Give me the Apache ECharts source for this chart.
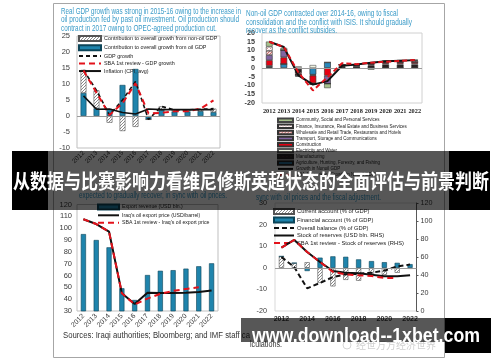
<!DOCTYPE html>
<html><head><meta charset="utf-8">
<script src="https://cdn.jsdelivr.net/npm/echarts@6/dist/echarts.min.js"></script>
<style>html,body{margin:0;padding:0;background:#fff}#c{width:500px;height:362px}</style>
</head><body><div id="c"></div>
<script>
// ---------------- DATA ----------------
const years = ['2012','2013','2014','2015','2016','2017','2018','2019','2020','2021','2022'];

// Panel 1: real GDP growth
const p1Range  = [-10, 25, 5];
const p1Oil    = [7.2, 2.4, 2.2, 9.7, 14.7, -1.1, 1.9, 1.4, 1.4, 1.5, 1.2];
const p1NonOil = [7.2, 5.6, -2.1, -4.7, -3.4, 0, 1.1, 0.5, 0.5, 0.6, 1.1];
const p1Gdp    = [14.4, 8.0, 0.3, 5.0, 10.8, -1.1, 3.0, 1.9, 1.9, 2.1, 2.3];
const p1Sba    = [14.2, 7.3, 0.3, 4.0, 10.2, 0.8, 1.0, 1.5, 1.5, 2.3, 4.9];
const p1Cpi    = [6.3, 2.1, 2.2, 1.1, 0.6, 2.2, 2.0, 2.0, 2.0, 2.0, 2.0];

// Panel 2: non-oil GDP contributions
const p2Range  = [-20, 20, 5];
const p2Agri   = [0.5, 2.3, -0.5, -3.8, 3.2, 0, 0, 0, 0, 0, 0];
const p2Manuf  = [0.5, 0, -2.5, -0.5, 0, 1.0, 1.0, 1.5, 2.0, 2.0, 2.0];
const p2Elec   = [0.3, 0, 1.0, 1.7, 0, 0.3, 0.2, 0.3, 0.4, 0.4, 0.4];
const p2Constr = [3.2, 3.8, -1.0, -4.4, -4.4, 0.4, 0.3, 0.6, 0.8, 0.9, 1.0];
const p2Transp = [2.9, 4.2, 0, -0.5, -4.6, 0, 0, 0, 0, 0, 0];
const p2Whole  = [2.4, 0, 0, 0, 0, 0.3, 0.3, 0.4, 0.5, 0.6, 0.7];
const p2Fin    = [2.4, 0, -0.6, 0, 0, 0, 0, 0.3, 0.3, 0.3, 0.3];
const p2Comm   = [2.9, 1.2, -0.3, 0, -2.5, 0, 0, -1.0, 0, 0.3, 0.4];
const p2Growth = [15.0, 12.0, -4.2, -9.5, -7.5, 1.3, 2.0, 3.0, 3.8, 4.2, 4.5];
const p2Sba    = [15.0, 12.0, -2.5, -12.8, -5.3, 2.7, 2.2, 3.0, 3.6, 4.0, 4.6];

// Panel 3: exports and oil price
const p3Range  = [30, 120, 10];
const p3Export = [95, 90, 83.8, 49.2, 39.3, 60.4, 64, 64.5, 65.8, 67.8, 70.3];
const p3Price  = [107.5, 103.5, 97, 45, 35.9, 45.5, 45.2, 45.2, 45.5, 46, 47.3];
const p3Sba    = [107.5, 103.5, 97, 45, 35.5, 40.5, 44.5, 47, 48.6, 50, null];

// Panel 4: balance of payments
const p4RangeL = [-20, 30, 10];
const p4RangeR = [0, 120, 20];
const p4CA     = [5.3, 2.2, 2.6, -7.0, -8.6, -5.6, -6.0, -2.8, -3.3, -2.3, -0.5];
const p4FA     = [0, 0, -1.5, 4.7, 5.3, 5.1, 3.9, 3.1, 2.6, 2.3, 1.7];
const p4OB     = [5.0, 0.3, -9.5, -7.0, -4.3, -3.0, -2.8, -2.3, -1.3, 0.6, 1.5];
const p4Res    = [70.4, 79, 65.5, 54.4, 44.5, 42.6, 41.9, 40.4, 38.5, 38.5, 39.6];
const p4Sba    = [70.4, 79, 65.5, 54.4, 43.5, 40.7, 39.6, 38.9, 36.7, 36.7, null];

// ---------------- STYLE HELPERS ----------------
const FONT = 'Liberation Sans, Arial, sans-serif';
const TEAL = '#1F84AC', TEAL_B = '#0C4559', RED = '#E3121B', TITLE = '#3A9BC8';

function pattern(bg, fg, step, lw, kind) {
  const c = document.createElement('canvas'); c.width = step; c.height = step;
  const g = c.getContext('2d');
  g.fillStyle = bg; g.fillRect(0, 0, step, step);
  g.strokeStyle = fg; g.fillStyle = fg; g.lineWidth = lw;
  if (kind === 'diag') {
    g.beginPath();
    g.moveTo(-1, step + 1); g.lineTo(step + 1, -1);
    g.moveTo(-1, 1); g.lineTo(1, -1);
    g.moveTo(step - 1, step + 1); g.lineTo(step + 1, step - 1);
    g.stroke();
  } else if (kind === 'dots') {
    g.fillRect(0, 0, lw, lw); g.fillRect(step / 2, step / 2, lw, lw);
  } else if (kind === 'hdash') {
    g.fillRect(0, 0, step / 2, lw);
  }
  return { image: c, repeat: 'repeat' };
}
const hatchGray  = pattern('#ffffff', '#8c8c8c', 3, 1, 'diag');
const patFin     = pattern('#ffffff', '#D98C8C', 3, 1, 'dots');
const patWhole   = pattern('#F4D6D6', '#C0504D', 3, 0.8, 'diag');
const patManuf   = pattern('#2b2222', '#9a7070', 4, 1, 'hdash');

function measure(text, weight, size, family) {
  const g = document.createElement('canvas').getContext('2d');
  g.font = weight + ' ' + size + 'px ' + family;
  return g.measureText(text).width;
}
function fitText(text, x, y, width, size, color, weight, family, z) {
  const w = measure(text, weight, size, family);
  return { type: 'text', x: x, y: y, scaleX: width / w, z: z, silent: true,
    style: { text: text, x: 0, y: 0, fill: color, fontSize: size, fontWeight: weight,
             fontFamily: family, verticalAlign: 'middle', align: 'left' } };
}

const zeroLine = { silent: true, symbol: 'none', label: { show: false },
  lineStyle: { color: '#9a9a9a', width: 1, type: 'solid' }, data: [{ yAxis: 0 }], animation: false };

function catAxis(gi, extra) {
  return Object.assign({ gridIndex: gi, type: 'category', data: years,
    axisLine: { show: false }, axisTick: { show: false }, splitLine: { show: false } }, extra);
}
function valAxis(gi, r, extra) {
  return Object.assign({ gridIndex: gi, type: 'value', min: r[0], max: r[1], interval: r[2],
    splitLine: { show: false }, axisLine: { show: false }, axisTick: { show: false } }, extra);
}
const lbl = (size, margin, extra) => Object.assign({ fontSize: size, color: '#3a3a3a', margin: margin, fontFamily: FONT }, extra || {});

const lineNames = new Set();
function bar(name, data, xi, yi, stack, color, border, width) {
  return { type: 'bar', name: name, data: data, xAxisIndex: xi, yAxisIndex: yi, stack: stack,
    barWidth: width, itemStyle: { color: color, borderColor: border, borderWidth: 0.6 } };
}
function line(name, data, xi, yi, color, w, type, z) {
  lineNames.add(name);
  return { type: 'line', name: name, data: data, xAxisIndex: xi, yAxisIndex: yi, symbol: 'none',
    z: z || 3, lineStyle: { color: color, width: w, type: type }, itemStyle: { color: color } };
}

// ---------------- SERIES ----------------
const s1 = [
  Object.assign(bar('Contribution to overall growth from oil GDP', p1Oil, 0, 0, 'g1', TEAL, TEAL_B, '45%'), { markLine: zeroLine }),
  bar('Contribution to overall growth from non-oil GDP', p1NonOil, 0, 0, 'g1', hatchGray, '#555', '45%'),
  line('GDP growth', p1Gdp, 0, 0, '#111', 1.6, [4, 3], 3),
  line('SBA 1st review - GDP growth', p1Sba, 0, 0, RED, 2, [6, 4], 4),
  line('Inflation (CPI, avg)', p1Cpi, 0, 0, '#111', 1.6, 'solid', 5)
];
const s2 = [
  Object.assign(bar('Agriculture, Hunting, Forestry, and Fishing', p2Agri, 1, 1, 'g2', '#2A88BA', '#222', '46%'), { markLine: zeroLine }),
  bar('Manufacturing', p2Manuf, 1, 1, 'g2', patManuf, '#222', '46%'),
  bar('Electricity and Water', p2Elec, 1, 1, 'g2', '#EEF3E2', '#555', '46%'),
  bar('Construction', p2Constr, 1, 1, 'g2', '#E60012', '#333', '46%'),
  bar('Transport, Storage and Communications', p2Transp, 1, 1, 'g2', '#8064A2', '#333', '46%'),
  bar('Wholesale and Retail Trade, Restaurants and Hotels', p2Whole, 1, 1, 'g2', patWhole, '#333', '46%'),
  bar('Finance, Insurance, Real Estate and Business Services', p2Fin, 1, 1, 'g2', patFin, '#333', '46%'),
  bar('Community, Social and Personal Services', p2Comm, 1, 1, 'g2', '#A6C08A', '#444', '46%'),
  line('Growth in Nonoil GDP', p2Growth, 1, 1, '#111', 2, 'solid', 4),
  line('SBA 1st review - Growth in Nonoil GDP', p2Sba, 1, 1, RED, 2, [5, 3], 5)
];
const s3 = [
  bar('Export revenue (USD bln.)', p3Export, 2, 2, null, TEAL, TEAL_B, '40%'),
  line("Iraq's oil export price (USD/barrel)", p3Price, 2, 2, '#111', 2, 'solid', 4),
  line("SBA 1st review - Iraq's oil export price", p3Sba, 2, 2, RED, 2, [6, 4], 5)
];
const s4 = [
  Object.assign(bar('Current account (% of GDP)', p4CA, 3, 3, 'g4', hatchGray, '#555', '40%'), { markLine: zeroLine }),
  bar('Financial account (% of GDP)', p4FA, 3, 3, 'g4', TEAL, TEAL_B, '40%'),
  line('Overall balance (% of GDP)', p4OB, 3, 3, '#111', 2, [5, 3], 3),
  line('Stock of reserves (USD bln. RHS)', p4Res, 3, 4, '#111', 2, 'solid', 4),
  line('SBA 1st review - Stock of reserves (RHS)', p4Sba, 3, 4, RED, 2, [6, 4], 5)
];

function legend(left, top, names, size, iw, ih, gap, lh) {
  return { left: left, top: top, orient: 'vertical', padding: 0, itemGap: gap, itemWidth: iw, itemHeight: ih,
    selectedMode: false,
    data: names.map(n => lineNames.has(n) ? { name: n, itemStyle: { opacity: 0 } } : { name: n, icon: 'rect' }),
    textStyle: { fontSize: size, color: '#222', fontFamily: FONT, lineHeight: lh, padding: [0, 0, 0, -2] } };
}

const option = {
  animation: false,
  backgroundColor: '#ffffff',
  grid: [
    { left: 77, top: 36, width: 143, height: 112, show: true, borderColor: '#BFBFBF', borderWidth: 1 },
    { left: 262, top: 33, width: 160, height: 70, show: true, borderColor: '#D0D0D0', borderWidth: 1 },
    { left: 77, top: 204.5, width: 141, height: 106.5, show: true, borderColor: '#BFBFBF', borderWidth: 1 },
    { left: 275, top: 203, width: 141.5, height: 108, show: true, borderColor: '#D9D9D9', borderWidth: 1 }
  ],
  xAxis: [
    catAxis(0, { axisLabel: lbl(6.5, 4, { rotate: 45, interval: 0 }) }),
    catAxis(1, { axisLabel: lbl(6.3, 5, { interval: 0, fontFamily: 'Liberation Serif, serif', fontWeight: 'bold', color: '#222' }) }),
    catAxis(2, { axisLabel: lbl(7, 4, { rotate: 45, interval: 0 }) }),
    catAxis(3, { axisLabel: lbl(7, 5, { interval: 1, fontWeight: 'bold' }) })
  ],
  yAxis: [
    valAxis(0, p1Range, { axisLabel: lbl(7.5, 7) }),
    valAxis(1, p2Range, { axisLabel: lbl(7.2, 7, { fontWeight: 'bold' }) }),
    valAxis(2, p3Range, { axisLabel: lbl(7.5, 5) }),
    valAxis(3, p4RangeL, { axisLabel: lbl(7.2, 8) }),
    valAxis(3, p4RangeR, { position: 'right', axisLabel: lbl(7.2, 4),
      axisLine: { show: true, lineStyle: { color: '#595959', width: 1 } },
      axisTick: { show: true, inside: false, length: 2, lineStyle: { color: '#595959' } } })
  ],
  legend: [
    legend(78, 35, ['Contribution to overall growth from non-oil GDP', 'Contribution to overall growth from oil GDP',
      'GDP growth', 'SBA 1st review - GDP growth', 'Inflation (CPI, avg)'], 5.4, 22, 5, 2.2, 5.3),
    legend(277, 117.5, ['Community, Social and Personal Services', 'Finance, Insurance, Real Estate and Business Services',
      'Wholesale and Retail Trade, Restaurants and Hotels', 'Transport, Storage and Communications', 'Construction',
      'Electricity and Water', 'Manufacturing', 'Agriculture, Hunting, Forestry, and Fishing', 'Growth in Nonoil GDP',
      'SBA 1st review - Growth in Nonoil GDP'], 4.5, 15, 3.5, 0.6, 5.2),
    legend(97, 203.5, ['Export revenue (USD bln.)', "Iraq's oil export price (USD/barrel)",
      "SBA 1st review - Iraq's oil export price"], 5.2, 21, 5, 2.2, 5.2),
    legend(273, 208, ['Current account (% of GDP)', 'Financial account (% of GDP)', 'Overall balance (% of GDP)',
      'Stock of reserves (USD bln. RHS)', 'SBA 1st review - Stock of reserves (RHS)'], 5.8, 20, 5, 1.5, 5.8)
  ],
  series: [].concat(s1, s2, s3, s4),
  graphic: [
    { type: 'rect', silent: true, z: 1, shape: { x: 53.5, y: 3.5, width: 391, height: 354 },
      style: { fill: 'none', stroke: '#A6A6A6', lineWidth: 1 } },
    fitText('Real GDP growth was strong in 2015-16 owing to the increase in', 61, 11.7, 180, 8.2, TITLE, 'normal', FONT, 50),
    fitText('oil production fed by past oil investment. Oil production should', 61, 20, 178, 8.2, TITLE, 'normal', FONT, 50),
    fitText('contract in 2017 owing to OPEC-agreed production cut.', 61, 28.3, 155.7, 8.2, TITLE, 'normal', FONT, 50),
    fitText('Non-oil GDP contracted over 2014-16, owing to fiscal', 246, 14, 152, 8.2, TITLE, 'normal', FONT, 50),
    fitText('consolidation and the conflict with ISIS. It should gradually', 246, 22.7, 166, 8.2, TITLE, 'normal', FONT, 50),
    fitText('recover as the conflict subsides.', 246, 30.7, 91, 8.2, TITLE, 'normal', FONT, 50),
    fitText('expected to gradually recover, in sync with oil prices.', 79, 196, 148, 8.2, TITLE, 'normal', FONT, 50),
    fitText('sync with oil prices and the fiscal adjustment.', 256, 198, 125, 8.2, TITLE, 'normal', FONT, 50),
    fitText('Sources: Iraqi authorities; Bloomberg; and IMF staff ca', 63, 336, 187, 8.5, '#333', 'normal', FONT, 50),
    fitText('lculations.', 250, 345, 32, 8.5, '#333', 'normal', FONT, 50),
    fitText('经世万方经济世界', 356, 345, 80, 10, '#d0d0d0', 'normal', 'Noto Sans CJK SC', 50),
    { type: 'circle', silent: true, z: 50, shape: { cx: 347, cy: 345, r: 4 }, style: { fill: 'none', stroke: '#d5d5d5', lineWidth: 1 } },
    // top banner
    { type: 'rect', silent: true, z: 100, shape: { x: 48, y: 151, width: 401, height: 59 }, style: { fill: 'rgba(0,0,0,0.66)' } },
    { type: 'rect', silent: true, z: 100, shape: { x: 12, y: 151, width: 36, height: 59 }, style: { fill: '#000' } },
    { type: 'rect', silent: true, z: 100, shape: { x: 449, y: 151, width: 41, height: 59 }, style: { fill: '#000' } },
    fitText('从数据与比赛影响力看维尼修斯英超状态的全面评估与前景判断', 13, 181.5, 476, 20, '#ffffff', 'bold', 'Noto Sans CJK SC', 110),
    // bottom banner
    { type: 'rect', silent: true, z: 100, shape: { x: 241, y: 318, width: 204, height: 24 }, style: { fill: 'rgba(0,0,0,0.66)' } },
    { type: 'rect', silent: true, z: 100, shape: { x: 445, y: 318, width: 46, height: 35 }, style: { fill: '#000' } },
    fitText('www.download--1xbet.com', 252, 336, 228, 21, '#ffffff', 'bold', FONT, 110)
  ]
};
const chart = echarts.init(document.getElementById('c'));
chart.setOption(option);
</script>
</body></html>
